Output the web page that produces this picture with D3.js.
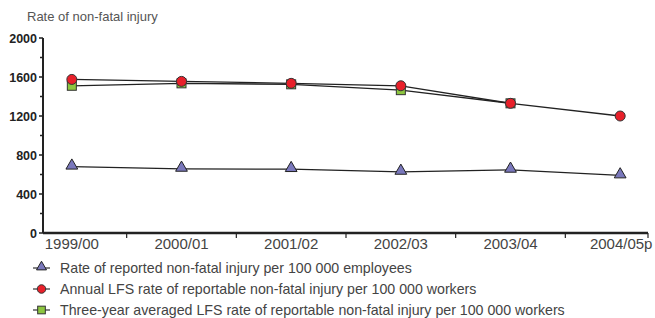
<!DOCTYPE html>
<html>
<head>
<meta charset="utf-8">
<script src="https://d3js.org/d3.v7.min.js"></script>
<style>
  body { margin: 0; background: #fff; }
  svg { display: block; font-family: "Liberation Sans", Arial, sans-serif; }
  .title { font-size: 13px; fill: #555; }
  .ylab { font-size: 12.5px; font-weight: bold; fill: #222; }
  .xlab { font-size: 15px; fill: #444; }
  .leg { font-size: 14.2px; fill: #444; }
</style>
</head>
<body>
<div id="chart"></div>
<script>
// categories and series
var years = ["1999/00", "2000/01", "2001/02", "2002/03", "2003/04", "2004/05p"];
var reported = [680, 658, 655, 627, 648, 590];
var annualLFS = [1575, 1555, 1535, 1510, 1330, 1200];
var avgLFS = [1510, 1535, 1525, 1465, 1330, null];
var yTicks = [0, 400, 800, 1200, 1600, 2000];
var legendLabels = [
  "Rate of reported non-fatal injury per 100 000 employees",
  "Annual LFS rate of reportable non-fatal injury per 100 000 workers",
  "Three-year averaged LFS rate of reportable non-fatal injury per 100 000 workers"
];

var W = 655, H = 318;
var svg = d3.select("#chart").append("svg").attr("width", W).attr("height", H);

var x = d3.scaleBand().domain(years).range([17, 675]);
var xc = function(d) { return x(d) + x.bandwidth() / 2; };
var y = d3.scaleLinear().domain([0, 2000]).range([233, 38]);
var axisLeft = 43, axisRight = 648;

svg.append("text").attr("class", "title").attr("x", 27).attr("y", 21).text("Rate of non-fatal injury");

// y axis
svg.append("line").attr("x1", axisLeft).attr("x2", axisLeft).attr("y1", y(2000)).attr("y2", y(0))
  .attr("stroke", "#222").attr("stroke-width", 2);
d3.range(0, 2001, 200).forEach(function(v) {
  svg.append("line").attr("x1", axisLeft - (v % 400 === 0 ? 4 : 3)).attr("x2", axisLeft)
    .attr("y1", y(v)).attr("y2", y(v)).attr("stroke", "#222").attr("stroke-width", 1.5);
});
svg.selectAll(".ylab").data(yTicks).enter().append("text").attr("class", "ylab")
  .attr("x", 37).attr("y", function(d) { return y(d) + 4.5; })
  .attr("text-anchor", "end").text(function(d) { return d; });

// x axis
svg.append("line").attr("x1", axisLeft).attr("x2", axisRight).attr("y1", y(0)).attr("y2", y(0))
  .attr("stroke", "#222").attr("stroke-width", 2.5);
var bounds = years.slice(1).map(function(d) { return x(d); }).concat([axisRight]);
bounds.forEach(function(b) {
  svg.append("line").attr("x1", b).attr("x2", b).attr("y1", y(0)).attr("y2", y(0) + 5)
    .attr("stroke", "#222").attr("stroke-width", 1.2);
});
svg.selectAll(".xlab").data(years).enter().append("text").attr("class", "xlab")
  .attr("x", function(d) { return xc(d) + (d === "2004/05p" ? 1 : 0); }).attr("y", 249)
  .attr("text-anchor", "middle").text(function(d) { return d; });

var line = d3.line().defined(function(d) { return d != null; })
  .x(function(d, i) { return xc(years[i]); }).y(function(d) { return y(d); });

var series = [
  { values: reported, shape: "tri", fill: "#7a78bc" },
  { values: annualLFS, shape: "circ", fill: "#e8202a" },
  { values: avgLFS, shape: "sq", fill: "#8dc63f" }
];

function drawMarker(g, shape, fill, cx, cy, k) {
  k = k || 1;
  if (shape === "tri") {
    g.append("path").attr("d", d3.symbol(d3.symbolTriangle, 60 * k * k)())
      .attr("transform", "translate(" + cx + "," + (cy - 1) + ")")
      .attr("fill", fill).attr("stroke", "#222").attr("stroke-width", 1);
  } else if (shape === "circ") {
    g.append("circle").attr("cx", cx).attr("cy", cy).attr("r", 5 * k)
      .attr("fill", fill).attr("stroke", "#333").attr("stroke-width", 1);
  } else {
    var s = 9 * k;
    g.append("rect").attr("x", cx - s / 2).attr("y", cy - s / 2).attr("width", s).attr("height", s)
      .attr("fill", fill).attr("stroke", "#333").attr("stroke-width", 1);
  }
}

// lines first, then markers (square under circle)
[2, 1, 0].forEach(function(k) {
  svg.append("path").datum(series[k].values).attr("d", line)
    .attr("fill", "none").attr("stroke", "#222").attr("stroke-width", 1.3);
});
[2, 1, 0].forEach(function(k) {
  var s = series[k];
  var g = svg.append("g");
  s.values.forEach(function(v, i) {
    if (v != null) drawMarker(g, s.shape, s.fill, xc(years[i]), y(v));
  });
});

// legend
legendLabels.forEach(function(t, i) {
  var ly = 268 + i * 21;
  var g = svg.append("g");
  g.append("line").attr("x1", 33).attr("x2", 50).attr("y1", ly).attr("y2", ly)
    .attr("stroke", "#333").attr("stroke-width", 1.2);
  drawMarker(g, series[i].shape, series[i].fill, 41.5, ly, 0.85);
  g.append("text").attr("class", "leg").attr("x", 60).attr("y", ly + 5).text(t);
});
</script>
</body>
</html>
